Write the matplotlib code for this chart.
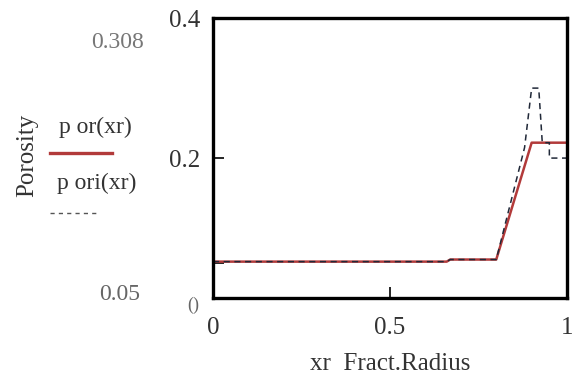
import matplotlib.pyplot as plt

# solid curve p or(xr)
xr_or = [0.0, 0.66, 0.67, 0.80, 0.90, 1.0]
por_or = [0.052, 0.052, 0.055, 0.055, 0.222, 0.222]

# dashed curve p ori(xr)
xr_ori = [0.0, 0.66, 0.67, 0.80, 0.88, 0.90, 0.92, 0.93, 0.95, 0.95, 1.0]
por_ori = [0.052, 0.052, 0.055, 0.055, 0.215, 0.30, 0.30, 0.222, 0.222, 0.20, 0.20]

xticks = [0, 0.5, 1]
xtick_labels = ["0", "0.5", "1"]
yticks = [0, 0.05, 0.2, 0.4]
ytick_labels = ["", "", "0.2", "0.4"]

plt.rcParams["font.family"] = ["Liberation Serif", "DejaVu Serif"]

fig = plt.figure(figsize=(5.81, 3.78), dpi=100)
ax = fig.add_axes([0.3666, 0.2116, 0.6094, 0.7404])

ax.plot(xr_or, por_or, color="#b23a3a", lw=1.8)
ax.plot(xr_ori, por_ori, color="#202838", lw=1.1, ls=(0, (4, 3)))

ax.set_xlim(0, 1)
ax.set_ylim(0, 0.4)
ax.set_xticks(xticks)
ax.set_xticklabels(xtick_labels, fontsize=18, color="#333333")
ax.set_yticks(yticks)
ax.set_yticklabels(ytick_labels, fontsize=18, color="#333333")
ax.tick_params(direction="in", length=8, width=1.2)
ax.tick_params(axis="x", pad=14)
ax.tick_params(axis="y", pad=9)
for s in ax.spines.values():
    s.set_linewidth(2.4)

ax.set_xlabel("xr  Fract.Radius", fontsize=18, color="#333333", labelpad=10)

# the "0" label of the y axis sits a little below the corner
fig.text(193 / 581, 1 - 305 / 378, "()", fontsize=13, color="#666666",
         ha="center", va="center")

# Mathcad-style axis limits and legend on the left
fig.text(118 / 581, 1 - 42 / 378, "0.308", fontsize=17, color="#777777",
         ha="center", va="center")
fig.text(120 / 581, 1 - 295 / 378, "0.05", fontsize=17, color="#666666",
         ha="center", va="center")
fig.text(27 / 581, 1 - 155 / 378, "Porosity", fontsize=18, color="#333333",
         rotation=90, ha="center", va="center")
fig.text(95 / 581, 1 - 127 / 378, "p or(xr)", fontsize=17, color="#333333",
         ha="center", va="center")
fig.text(97 / 581, 1 - 183 / 378, "p ori(xr)", fontsize=17, color="#333333",
         ha="center", va="center")
fig.add_artist(plt.Line2D([50 / 581, 112 / 581], [1 - 153 / 378, 1 - 153 / 378],
                          color="#b23a3a", lw=2.4))
fig.add_artist(plt.Line2D([50 / 581, 100 / 581], [1 - 213 / 378, 1 - 213 / 378],
                          color="#555555", lw=1.0, ls=(0, (3, 3))))

fig.savefig("out.png", dpi=100)
